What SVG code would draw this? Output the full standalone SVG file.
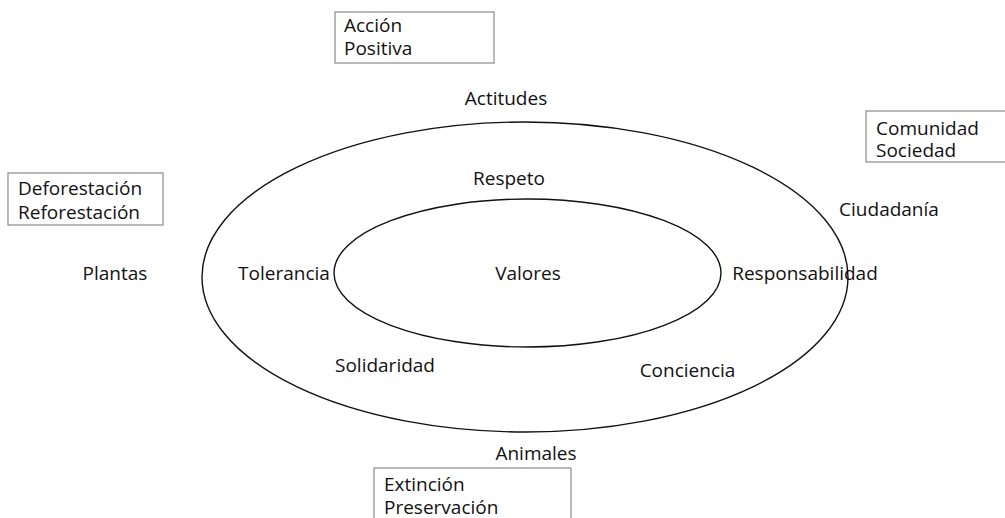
<svg xmlns="http://www.w3.org/2000/svg" width="1005" height="518" viewBox="0 0 1005 518">
<style>
text{font-family:"Open Sans","Noto Sans","Liberation Sans",sans-serif;font-size:19px;fill:#111}
.c{text-anchor:middle}
.box{fill:#fff;stroke:#8a8a8a;stroke-width:1.2}
.ring{fill:none;stroke:#111;stroke-width:1.4}
</style>
<rect width="1005" height="518" fill="#fff"/>
<g id="connectors"></g>
<g id="outer"><ellipse class="ring" cx="525" cy="277" rx="323" ry="155"/></g>
<g id="inner"><ellipse class="ring" cx="527.5" cy="273" rx="193.5" ry="74"/></g>
<g id="accion"><rect class="box" x="335" y="12" width="159" height="51"/><text x="344" y="32">Acción<tspan x="344" dy="23">Positiva</tspan></text></g>
<g id="comunidad"><rect class="box" x="866" y="111" width="145" height="51"/><text x="876" y="135">Comunidad<tspan x="876" dy="22">Sociedad</tspan></text></g>
<g id="deforestacion"><rect class="box" x="8" y="173" width="155" height="52"/><text x="18" y="195">Deforestación<tspan x="18" dy="24">Reforestación</tspan></text></g>
<g id="extincion"><rect class="box" x="374" y="468" width="197" height="60"/><text x="384" y="491">Extinción<tspan x="384" dy="23">Preservación</tspan></text></g>
<g id="actitudes"><text class="c" x="506" y="105">Actitudes</text></g>
<g id="ciudadania"><text class="c" x="889" y="216">Ciudadanía</text></g>
<g id="plantas"><text class="c" x="115" y="280">Plantas</text></g>
<g id="respeto"><text class="c" x="509" y="185">Respeto</text></g>
<g id="tolerancia"><text class="c" x="284" y="280">Tolerancia</text></g>
<g id="valores"><text class="c" x="528" y="280">Valores</text></g>
<g id="responsabilidad"><text class="c" x="805" y="280">Responsabilidad</text></g>
<g id="solidaridad"><text class="c" x="385" y="372">Solidaridad</text></g>
<g id="conciencia"><text class="c" x="687.5" y="377">Conciencia</text></g>
<g id="animales"><text class="c" x="536" y="460">Animales</text></g>
</svg>
